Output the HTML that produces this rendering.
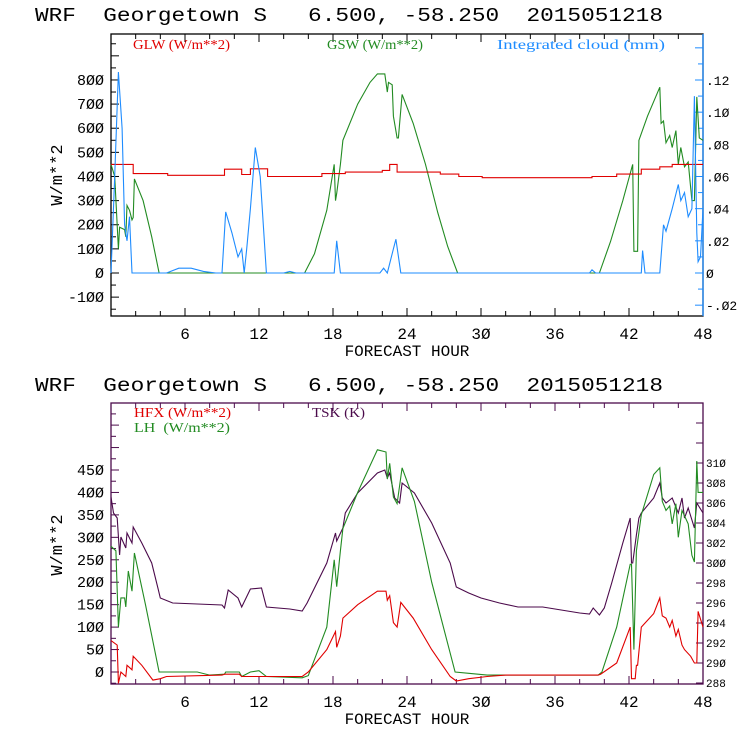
<!DOCTYPE html>
<html><head><meta charset="utf-8">
<style>
html,body{margin:0;padding:0;background:#fff;}
svg{display:block;}
text{font-family:"Liberation Mono",monospace;white-space:pre;}
.leg{font-family:"Liberation Serif",serif;font-size:14px;}
</style></head>
<body>
<svg id="chart" width="740" height="740" viewBox="0 0 740 740" xmlns="http://www.w3.org/2000/svg" xml:space="preserve"></svg>
<script>
// ---- top panel data ----
const glwHours = [0,1.8,1.8,4.6,4.6,9.2,9.2,10.6,10.6,11.3,11.3,12.7,12.7,17.1,17.1,19,19,22,22,22.6,22.6,23.2,23.2,26.7,26.7,28.2,28.2,30.1,30.1,39,39,41,41,43,43,44.5,44.5,45.5,45.5,48];
const glwVals  = [450,450,412,412,405,405,430,430,408,408,432,432,400,400,412,412,418,418,425,425,450,450,418,418,410,410,400,400,395,395,400,400,410,410,430,430,440,440,450,450];
const gswHours = [0,0.3,0.6,0.7,1.1,1.2,1.3,1.5,1.7,1.8,1.9,2.6,3.3,3.9,15.7,16.5,17.5,18.1,18.2,18.3,18.6,18.8,20,21,21.6,22.2,22.3,22.4,22.5,22.8,22.9,23.2,23.3,23.6,24.5,25.5,26.5,27.3,28.1,39.6,40.5,41.5,42.3,42.4,42.7,42.8,43.5,44.5,44.6,44.8,45,45.3,45.5,45.8,46,46.2,46.5,46.8,47.1,47.3,47.5,47.7,48];
const gswVals  = [450,400,100,190,180,150,280,260,220,230,390,300,150,0,0,80,260,450,300,330,450,550,700,790,825,825,790,750,790,780,650,560,560,740,620,450,250,110,0,0,130,300,450,90,90,550,650,770,620,630,540,570,520,590,450,520,440,460,300,300,730,560,550];
const cloudHours = [0,0.3,0.6,0.9,1.1,1.3,1.5,1.7,4.5,5.5,6.5,7.5,8.5,9.0,9.3,9.8,10.3,10.6,10.8,11.0,11.3,11.7,12.1,12.6,14.0,14.5,15.0,18.1,18.3,18.6,21.8,22.1,22.4,22.9,23.1,23.5,38.8,39.0,39.3,43.0,43.1,43.3,44.5,44.8,45.0,45.5,46.0,46.2,46.5,46.8,47.1,47.3,47.5,47.6,47.8,48];
const cloudVals  = [0,0.06,0.125,0.09,0.03,0.02,0.035,0,0,0.003,0.003,0.001,0,0,0.038,0.025,0.01,0.015,0,0.015,0.04,0.078,0.06,0,0,0.001,0,0,0.02,0,0,0.003,0,0.015,0.021,0,0,0.002,0,0,0.014,0,0,0.03,0.026,0.04,0.055,0.045,0.05,0.035,0.04,0.11,0.025,0.007,0.01,0.04];
// ---- bottom panel data ----
const hfxHours = [0,0.5,0.6,0.8,1.2,1.3,1.7,1.8,2.5,3.4,4,4.5,9,9.2,10.4,10.6,15.5,16,17.5,18.2,18.3,18.6,18.8,20,21.6,22.3,22.4,22.6,22.9,23.2,23.5,24.5,26,27.5,28,29,30.5,32,39.5,39.7,41,42.1,42.2,42.5,42.6,42.7,43,44,44.5,44.7,45,45.3,45.5,45.8,46,46.3,46.5,47,47.3,47.5,47.6,48];
const hfxVals  = [70,60,-25,0,-10,15,5,35,15,-18,-15,-10,-7,-5,-5,-10,-10,0,50,90,55,80,120,150,180,180,160,170,110,100,155,120,50,-10,-20,-15,-10,-7,-7,-5,20,100,-15,-15,15,15,100,130,165,125,120,100,115,80,95,60,50,35,20,20,135,100];
const lhHours = [0,0.4,0.6,0.8,1.1,1.2,1.4,1.7,1.9,2.8,3.9,7,8,9.2,9.3,10.4,10.6,11.3,12,12.6,15.5,16,17.5,18.1,18.3,18.6,18.8,20,21.6,22.3,22.4,22.6,22.9,23.2,23.6,24.6,26,27.9,29,30.5,39.5,39.8,41,42.1,42.2,42.4,42.6,43,44,44.5,44.7,45,45.3,45.5,45.8,46,46.3,46.8,47.1,47.3,47.5,47.6,48];
const lhVals  = [280,270,100,165,165,145,225,180,265,150,0,0,-7,-5,0,0,-10,0,3,-10,-13,-8,100,250,190,270,320,400,495,490,430,465,390,375,455,380,200,0,-3,-7,-7,0,100,240,240,50,270,350,440,455,380,360,370,330,375,300,360,330,260,245,470,400,400];
const tskHours = [0,0.2,0.5,0.7,0.8,1.2,1.3,1.7,1.8,2.5,3.3,3.8,4,5,9,9.2,9.5,10.3,10.6,11.3,12.2,12.6,14.5,15.5,15.9,17.5,18.2,18.3,18.8,19,20,21.6,22.2,22.4,22.6,23,23.4,23.6,24.6,26,27.5,28,29,30,31.5,33,35,36.5,38,38.8,39.1,39.6,40,40.6,41.5,42.1,42.2,42.3,42.6,42.8,43,44,44.5,44.7,45,45.5,46,46.3,46.5,46.8,47.3,47.5,48];
const tskVals  = [306.6,305,304.5,300.8,302.6,301.5,303,302,303.6,302,300,297.5,296.5,296,295.8,295.5,297.3,296.5,295.6,297.4,297.5,295.6,295.4,295.2,296,300,303,302.2,303.5,305,307,309,309.3,308.5,309,306.5,306,308,307,304,300,297.6,297,296.5,296,295.6,295.6,295.3,295,294.9,295.5,294.8,295.5,298,302,304.5,300,300,302.8,304.5,305,306.5,308,306.5,306,306.5,305,306.5,304.5,305.5,303.5,306,305];

const xTicks = [6,12,18,24,30,36,42,48];
const topLeftTicks = [-100,0,100,200,300,400,500,600,700,800];
const topRightTicks = [-0.02,0,0.02,0.04,0.06,0.08,0.10,0.12];
const topRightLabels = ["-.02","0",".02",".04",".06",".08",".10",".12"];
const botLeftTicks = [0,50,100,150,200,250,300,350,400,450];
const botRightTicks = [288,290,292,294,296,298,300,302,304,306,308,310];

const svg = document.getElementById('chart');
const NS = 'http://www.w3.org/2000/svg';
function mk(tag, attrs, parent){const e=document.createElementNS(NS,tag);for(const k in attrs)e.setAttribute(k,attrs[k]);(parent||svg).appendChild(e);return e;}
const X0=111, X1=703;
function xS(h){return X0+(X1-X0)*h/48;}
const T_TOP=34, T_BOT=316;
function yTop(v){return 273 - v*0.2413;}
function yCloud(c){return 273 - c*(193/0.12);}
const B_TOP=403, B_BOT=684;
function yBot(v){return 672 - v*(202/450);}
function yTsk(k){return 683 - (k-288)*10;}

function title(y,name){
  const t=mk('text',{x:35,y:y,'font-size':'19','textLength':'628','lengthAdjust':'spacingAndGlyphs',fill:'#000'});
  t.textContent='WRF  Georgetown S   6.500, -58.250  2015051218';
  
  
}
function line(hs,vs,yf,color,name){
  let d='';
  for(let i=0;i<hs.length;i++){d+=(i?'L':'M')+xS(hs[i]).toFixed(1)+','+yf(vs[i]).toFixed(1);}
  const p=mk('path',{d:d,fill:'none',stroke:color,'stroke-width':'1.1'});
  
  
}
function txt(x,y,s,size,color,anchor,name,cls,len){
  const t=mk('text',{x:x,y:y,'font-size':size,fill:color,'text-anchor':anchor||'start'});
  if(cls)t.setAttribute('class',cls);
  if(len){t.setAttribute('textLength',len);t.setAttribute('lengthAdjust','spacingAndGlyphs');}
  t.textContent=s;
  
  
  return t;
}
function xAxis(top,bot,color,prefix){
  for(let h=2;h<48;h+=2){
    const len=(h%6===0)?8:5;
    mk('line',{x1:xS(h),x2:xS(h),y1:bot,y2:bot-len,stroke:color});
    mk('line',{x1:xS(h),x2:xS(h),y1:top,y2:top+len,stroke:color});
  }
  xTicks.forEach(h=>{txt(xS(h),bot+23,String(h).replace(/0/g,'Ø'),'16','#000','middle',prefix+'-x-tick-'+h);});
  txt((X0+X1)/2,bot+40,'FORECAST HOUR','16','#000','middle',prefix+'-x-axis-title');
}

// ===== TOP PANEL =====
title(21,'top-title');
mk('rect',{x:X0,y:T_TOP,width:X1-X0,height:T_BOT-T_TOP,fill:'none',stroke:'#000','stroke-width':'1.3'});
mk('line',{x1:X1,x2:X1,y1:T_TOP,y2:T_BOT,stroke:'#1e8cff','stroke-width':'1.3'});
for(let v=-150;v<=950;v+=50){const y=yTop(v);if(y<T_TOP||y>T_BOT)continue;mk('line',{x1:X0,x2:X0+(v%100===0?8:5),y1:y,y2:y,stroke:'#000'});}
topLeftTicks.forEach(v=>txt(104,yTop(v)+5,String(v).replace(/0/g,'Ø'),'15','#000','end','top-y-tick-'+v));
for(let c=-0.03;c<=0.16;c+=0.01){const y=yCloud(c);if(y<T_TOP||y>T_BOT)continue;mk('line',{x1:X1,x2:X1-(Math.round(c*100)%2===0?8:5),y1:y,y2:y,stroke:'#1e8cff'});}
topRightTicks.forEach((c,i)=>txt(706,yCloud(c)+5,topRightLabels[i].replace(/0/g,'Ø'),'13','#000','start','top-y2-tick-'+i));
const yt=txt(0,0,'W/m**2','17','#000','middle','top-y-axis-title');
yt.setAttribute('transform','translate(62,175) rotate(-90)');
xAxis(T_TOP,T_BOT,'#000','top');
txt(133,49,'GLW (W/m**2)','14','#e00000','start','legend-glw','leg',97);
txt(327,49,'GSW (W/m**2)','14','#228b22','start','legend-gsw','leg',96);
txt(497,49,'Integrated cloud (mm)','14','#1e8cff','start','legend-cloud','leg',168);
line(gswHours,gswVals,yTop,'#228b22','gsw-line');
line(glwHours,glwVals,yTop,'#e00000','glw-line');
line(cloudHours,cloudVals,yCloud,'#1e8cff','cloud-line');

// ===== BOTTOM PANEL =====
title(391,'bottom-title');
const P='#4b0a4b';
mk('rect',{x:X0,y:B_TOP,width:X1-X0,height:B_BOT-B_TOP,fill:'none',stroke:P,'stroke-width':'1.3'});
for(let v=-25;v<=700;v+=25){const y=yBot(v);if(y<B_TOP||y>B_BOT)continue;mk('line',{x1:X0,x2:X0+(v%50===0?8:5),y1:y,y2:y,stroke:P});}
botLeftTicks.forEach(v=>txt(104,yBot(v)+5,String(v).replace(/0/g,'Ø'),'15','#000','end','bottom-y-tick-'+v));
for(let k=288;k<=316;k+=2){const y=yTsk(k);if(y<B_TOP)continue;mk('line',{x1:X1,x2:X1-7,y1:y,y2:y,stroke:P});}
botRightTicks.forEach(k=>txt(706,yTsk(k)+4,String(k).replace(/0/g,'Ø'),'11','#000','start','bottom-y2-tick-'+k));
const yb=txt(0,0,'W/m**2','17','#000','middle','bottom-y-axis-title');
yb.setAttribute('transform','translate(62,545) rotate(-90)');
xAxis(B_TOP,B_BOT,P,'bottom');
txt(134,417,'HFX (W/m**2)','14','#e00000','start','legend-hfx','leg',97);
txt(134,432,'LH  (W/m**2)','14','#228b22','start','legend-lh','leg',96);
txt(312,417,'TSK (K)','14',P,'start','legend-tsk','leg',53);
line(tskHours,tskVals,yTsk,P,'tsk-line');
line(lhHours,lhVals,yBot,'#228b22','lh-line');
line(hfxHours,hfxVals,yBot,'#e00000','hfx-line');
</script>
</body></html>
